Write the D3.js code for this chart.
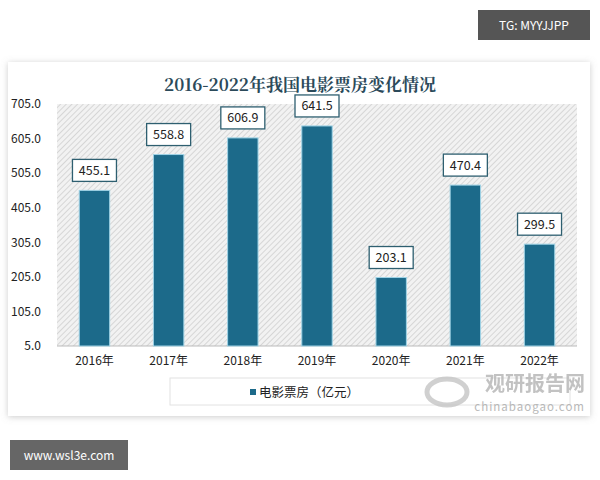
<!DOCTYPE html>
<html><head><meta charset="utf-8">
<script src="https://cdn.jsdelivr.net/npm/d3@7"></script>
<style>body{margin:0;background:#fff}svg{display:block}</style>
</head><body>
<svg id="chart"></svg>
<script>
let years = ["2016年", "2017年", "2018年", "2019年", "2020年", "2021年", "2022年"];
let boxOffice = [455.1, 558.8, 606.9, 641.5, 203.1, 470.4, 299.5];
let yTicks = [5, 105, 205, 305, 405, 505, 605, 705];

let svg = d3.select("#chart").attr("width", 600).attr("height", 480);
let font = "'Noto Sans CJK SC', 'Noto Sans', sans-serif";

// hatch pattern for plot background
let defs = svg.append("defs");
let pat = defs.append("pattern").attr("id", "hatch").attr("width", 4).attr("height", 4)
    .attr("patternUnits", "userSpaceOnUse").attr("patternTransform", "rotate(45)");
pat.append("rect").attr("width", 4).attr("height", 4).attr("fill", "#f2f2f2");
pat.append("line").attr("x1", 0).attr("y1", 0).attr("x2", 0).attr("y2", 4)
    .attr("stroke", "#c8c8c8").attr("stroke-width", 1.3);
let sh = defs.append("filter").attr("id", "shadow").attr("x", "-5%").attr("y", "-5%").attr("width", "110%").attr("height", "110%");
sh.append("feDropShadow").attr("dx", 0).attr("dy", 1).attr("stdDeviation", 3).attr("flood-color", "#999").attr("flood-opacity", 0.5);

// panel
svg.append("rect").attr("x", 8).attr("y", 62).attr("width", 582).attr("height", 354)
    .attr("fill", "#fff").attr("filter", "url(#shadow)");

// top-right tag and bottom-left tag
svg.append("rect").attr("x", 478).attr("y", 10).attr("width", 112).attr("height", 30).attr("fill", "#555");
svg.append("text").attr("x", 534).attr("y", 30).attr("text-anchor", "middle").attr("fill", "#fff")
    .attr("font-family", font).attr("font-size", 12).text("TG: MYYJJPP");
svg.append("rect").attr("x", 10).attr("y", 440).attr("width", 118).attr("height", 30).attr("fill", "#666");
svg.append("text").attr("x", 69).attr("y", 460).attr("text-anchor", "middle").attr("fill", "#fff")
    .attr("font-family", font).attr("font-size", 12).text("www.wsl3e.com");

// title
svg.append("text").attr("x", 300).attr("y", 91).attr("text-anchor", "middle")
    .attr("font-family", "'Noto Serif CJK SC', 'Noto Sans CJK SC', serif").attr("font-weight", "bold")
    .attr("font-size", 17).attr("fill", "#2b4a5a").text("2016-2022年我国电影票房变化情况");

let x = d3.scaleBand().domain(years).range([57, 577]).paddingInner(0.59).paddingOuter(0.3);
let y = d3.scaleLinear().domain([5, 705]).range([346, 104]);

svg.append("rect").attr("x", 57).attr("y", 104).attr("width", 520).attr("height", 242).attr("fill", "url(#hatch)");
svg.append("line").attr("x1", 57).attr("x2", 577).attr("y1", 346).attr("y2", 346).attr("stroke", "#bbb");

let yAxis = svg.append("g").attr("transform", "translate(44,0)")
    .call(d3.axisLeft(y).tickValues(yTicks).tickFormat(d3.format(".1f")).tickSize(0));
yAxis.select(".domain").remove();
yAxis.selectAll("text").attr("font-family", font).attr("font-size", 12).attr("fill", "#222");

let xAxis = svg.append("g").attr("transform", "translate(0,346)")
    .call(d3.axisBottom(x).tickSize(0).tickPadding(10));
xAxis.select(".domain").remove();
xAxis.selectAll("text").attr("font-family", font).attr("font-size", 12).attr("fill", "#222");

svg.selectAll(".bar").data(boxOffice).enter().append("rect")
    .attr("x", (d, i) => x(years[i])).attr("width", x.bandwidth())
    .attr("y", d => y(d)).attr("height", d => 346 - y(d))
    .attr("fill", "#1c6a8a").attr("stroke", "#9fd3e6").attr("stroke-width", 1);

let lab = svg.selectAll(".lab").data(boxOffice).enter().append("g")
    .attr("transform", (d, i) => `translate(${x(years[i]) + x.bandwidth() / 2},${y(d) - 20})`);
lab.append("rect").attr("x", -22).attr("y", -11).attr("width", 44).attr("height", 22)
    .attr("fill", "#fff").attr("stroke", "#2e5f70").attr("stroke-width", 1.3);
lab.append("text").attr("text-anchor", "middle").attr("dy", "0.36em")
    .attr("font-family", font).attr("font-size", 12.5).attr("fill", "#222").text(d => d.toFixed(1));

// legend
svg.append("rect").attr("x", 170).attr("y", 378).attr("width", 400).attr("height", 27)
    .attr("fill", "#fff").attr("stroke", "#e2e2e2");
svg.append("rect").attr("x", 250).attr("y", 389).attr("width", 6).attr("height", 6).attr("fill", "#1c6a8a");
svg.append("text").attr("x", 259).attr("y", 397).attr("font-family", font).attr("font-size", 12.5)
    .attr("fill", "#222").text("电影票房（亿元）");

// watermark
svg.append("text").attr("x", 585).attr("y", 391).attr("text-anchor", "end").attr("font-family", font)
    .attr("font-weight", "bold").attr("font-size", 20).attr("fill", "#b8b8b8").attr("opacity", 0.85).text("观研报告网");
svg.append("text").attr("x", 585).attr("y", 411).attr("text-anchor", "end").attr("font-family", font)
    .attr("font-size", 11.5).attr("letter-spacing", 1).attr("fill", "#b8b8b8").text("chinabaogao.com");
svg.append("ellipse").attr("cx", 447).attr("cy", 392).attr("rx", 20).attr("ry", 13)
    .attr("fill", "none").attr("stroke", "#c4c4c4").attr("stroke-width", 5).attr("opacity", 0.8);
</script>
</body></html>
